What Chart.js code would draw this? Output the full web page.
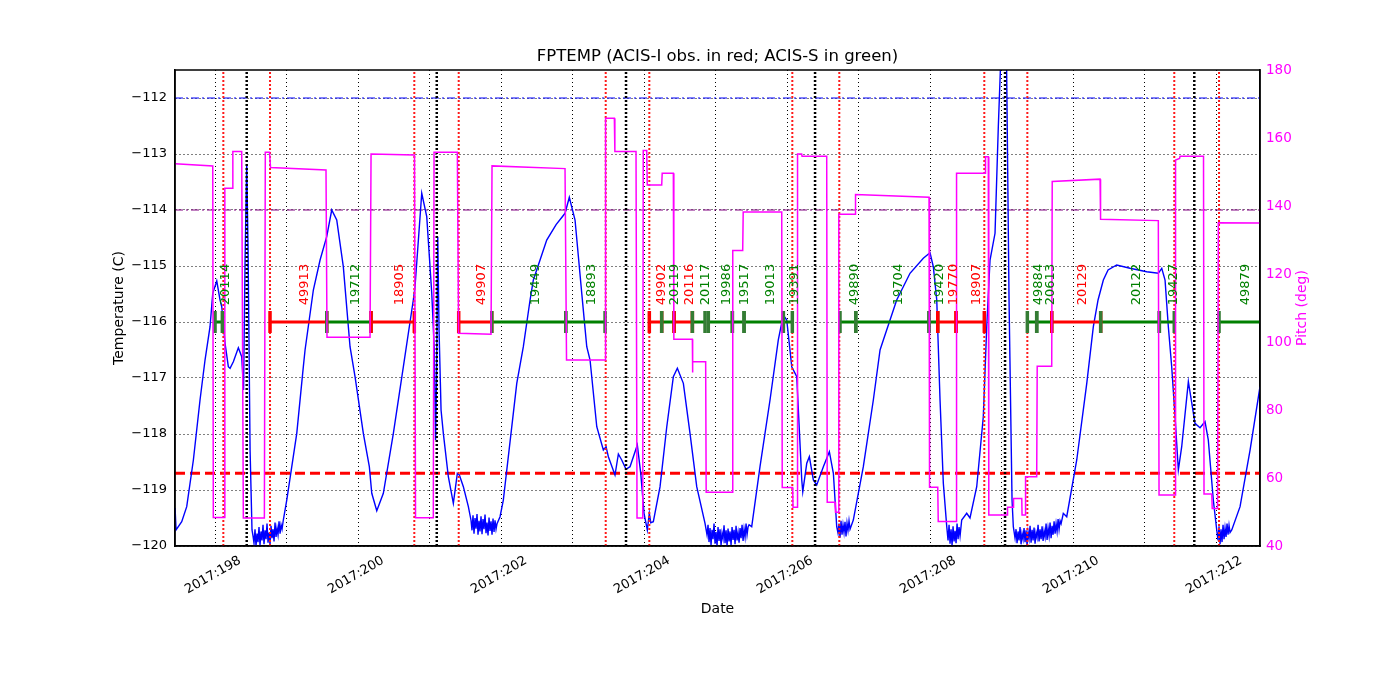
<!DOCTYPE html>
<html><head><meta charset="utf-8">
<script src="https://cdn.jsdelivr.net/npm/chart.js@4.4.1/dist/chart.umd.min.js"></script>
<style>html,body{margin:0;padding:0;background:#fff;}canvas{display:block;}</style>
</head><body>
<canvas id="c" width="1400" height="700"></canvas>
<script>
const FONT = '"DejaVu Sans", sans-serif';
const chartTitle = 'FPTEMP (ACIS-I obs. in red; ACIS-S in green)';
const xMin = 197.44, xMax = 212.615;
const tempMin = -120, tempMax = -111.5;
const pitchMin = 40, pitchMax = 180;
const limitBlue = -112;
const limitPurple = -114;
const limitRed = -118.7;
const obsLevel = -116;
const labelLevel = -115.7;

const tempDays = [197.441,197.455,197.534,197.604,197.697,197.790,197.860,197.930,197.968,198.024,198.070,198.094,198.140,198.186,198.210,198.256,198.326,198.373,198.399,198.420,198.443,198.462,198.490,198.517,
198.531,198.545,198.559,198.573,198.587,198.601,198.615,198.629,198.643,198.657,198.671,198.685,198.699,198.713,198.727,198.741,198.755,198.769,198.783,198.797,198.811,198.825,198.839,198.853,198.867,198.881,198.895,198.909,198.923,198.937,
198.955,199.003,199.143,199.235,199.259,199.375,199.469,199.562,199.632,199.702,199.794,199.888,199.958,200.074,200.158,200.192,200.262,200.354,200.494,200.634,200.773,200.797,200.891,200.961,201.031,201.067,201.084,201.098,201.115,201.133,201.161,201.193,201.263,201.333,201.389,201.417,201.473,201.543,
201.580,201.594,201.608,201.622,201.636,201.650,201.664,201.678,201.692,201.706,201.720,201.734,201.748,201.762,201.776,201.790,201.804,201.818,201.832,201.846,201.860,201.874,201.888,201.902,201.916,201.930,201.944,
201.986,202.032,202.220,202.312,202.406,202.452,202.639,202.770,202.895,202.955,203.035,203.129,203.199,203.245,203.339,203.431,203.469,203.501,203.594,203.641,203.688,203.748,203.804,203.906,203.954,204.000,204.046,204.074,204.094,204.130,204.224,204.318,204.410,204.466,204.550,204.643,204.737,204.853,
204.881,204.895,204.909,204.923,204.937,204.951,204.965,204.979,204.993,205.007,205.021,205.035,205.049,205.063,205.077,205.091,205.105,205.119,205.133,205.147,205.161,205.175,205.189,205.203,205.217,205.231,205.245,205.259,205.273,205.287,205.301,205.315,205.329,205.343,205.357,205.371,205.385,205.399,205.413,205.427,205.441,205.455,205.469,
205.506,205.622,205.762,205.878,205.948,205.996,206.066,206.136,206.206,206.220,206.276,206.312,206.368,206.415,206.508,206.592,206.648,206.695,
206.713,206.727,206.741,206.755,206.769,206.783,206.797,206.811,206.825,206.839,206.853,206.867,206.881,
206.927,207.067,207.207,207.301,207.347,207.534,207.720,207.906,208.000,208.046,208.094,208.140,208.186,208.234,
208.252,208.266,208.280,208.294,208.308,208.322,208.336,208.350,208.364,208.378,208.392,208.406,208.420,
208.443,208.513,208.559,208.653,208.745,208.793,208.839,208.909,208.955,208.989,209.028,209.070,209.105,209.147,209.165,
209.189,209.203,209.217,209.231,209.245,209.259,209.273,209.287,209.301,209.315,209.329,209.343,209.357,209.371,209.385,209.399,209.413,209.427,209.441,209.455,209.469,209.483,209.497,209.511,209.525,209.539,209.553,209.567,209.581,209.595,209.609,209.623,209.637,209.651,209.665,209.679,209.693,209.707,209.721,209.735,209.749,209.763,209.777,209.791,209.805,209.819,209.833,
209.864,209.912,210.052,210.192,210.284,210.350,210.424,210.490,210.611,210.797,211.031,211.193,211.241,211.287,211.333,211.380,211.427,211.473,211.520,211.613,211.706,211.776,211.846,211.892,211.962,212.010,
212.028,212.042,212.056,212.070,212.084,212.098,212.112,212.126,212.140,212.154,212.168,212.182,212.196,
212.220,212.336,212.476,212.615];

const tempVals = [-119.321,-119.714,-119.566,-119.298,-118.464,-117.393,-116.679,-116.084,-115.488,-115.268,-115.607,-115.727,-116.380,-116.798,-116.827,-116.709,-116.459,-116.620,-117.214,-114.893,-113.179,-114.714,-118.286,-119.714,
-119.82,-119.95,-119.70,-120.0,-119.78,-119.93,-119.66,-119.99,-119.74,-119.90,-119.62,-119.97,-119.72,-119.88,-119.60,-119.94,-119.76,-119.98,-119.64,-119.86,-119.70,-119.92,-119.58,-119.84,-119.68,-119.80,-119.56,-119.78,-119.62,-119.70,
-119.536,-119.179,-117.988,-116.798,-116.5,-115.429,-114.893,-114.477,-114.0,-114.179,-115.012,-116.441,-116.977,-117.988,-118.584,-119.059,-119.370,-119.059,-117.988,-116.798,-115.607,-115.370,-113.702,-114.120,-115.488,-116.5,-118.107,-117.036,-114.477,-116.143,-117.571,-117.988,-118.763,-119.238,-118.702,-118.732,-118.941,-119.298,
-119.54,-119.72,-119.45,-119.78,-119.50,-119.69,-119.43,-119.80,-119.55,-119.74,-119.47,-119.79,-119.52,-119.70,-119.44,-119.77,-119.58,-119.81,-119.49,-119.73,-119.56,-119.80,-119.51,-119.75,-119.54,-119.70,-119.60,
-119.477,-119.179,-117.095,-116.441,-115.607,-115.25,-114.536,-114.260,-114.059,-113.773,-114.179,-115.488,-116.441,-116.679,-117.870,-118.286,-118.227,-118.405,-118.732,-118.357,-118.464,-118.630,-118.584,-118.196,-118.702,-119.416,-119.714,-119.416,-119.584,-119.566,-118.941,-117.870,-116.977,-116.827,-117.095,-117.988,-118.941,-119.595,
-119.80,-119.62,-119.93,-119.68,-119.98,-119.71,-119.88,-119.60,-119.96,-119.75,-120.0,-119.66,-119.91,-119.70,-119.99,-119.77,-119.87,-119.63,-119.95,-119.72,-120.0,-119.69,-119.92,-119.74,-119.98,-119.66,-119.89,-119.71,-119.97,-119.64,-119.90,-119.76,-119.94,-119.68,-119.86,-119.62,-119.91,-119.70,-119.84,-119.60,-119.80,-119.66,-119.62,
-119.655,-118.584,-117.393,-116.321,-115.875,-115.964,-116.798,-116.977,-118.821,-119.030,-118.523,-118.405,-118.821,-118.911,-118.584,-118.316,-118.702,-119.655,
-119.77,-119.60,-119.85,-119.55,-119.80,-119.62,-119.76,-119.57,-119.83,-119.59,-119.72,-119.55,-119.70,
-119.536,-118.584,-117.393,-116.5,-116.321,-115.607,-115.130,-114.862,-114.763,-115.013,-115.607,-117.393,-118.880,-119.655,
-119.90,-119.62,-119.96,-119.70,-119.99,-119.65,-119.92,-119.73,-119.95,-119.60,-119.88,-119.66,-119.82,
-119.536,-119.416,-119.5,-118.941,-117.691,-116.084,-114.893,-114.416,-112.512,-111.321,-110.786,-111.321,-115.607,-119.179,-119.655,
-119.86,-119.70,-119.95,-119.74,-119.90,-119.66,-119.97,-119.78,-119.88,-119.68,-119.93,-119.72,-119.99,-119.75,-119.87,-119.64,-119.94,-119.71,-119.90,-119.67,-119.96,-119.76,-119.85,-119.62,-119.92,-119.70,-119.88,-119.65,-119.91,-119.73,-119.84,-119.60,-119.89,-119.68,-119.82,-119.58,-119.86,-119.64,-119.80,-119.56,-119.78,-119.60,-119.74,-119.52,-119.70,-119.55,-119.60,
-119.416,-119.477,-118.464,-117.095,-116.084,-115.607,-115.25,-115.071,-114.982,-115.041,-115.102,-115.130,-115.041,-115.25,-116.084,-116.798,-117.691,-118.643,-118.227,-117.066,-117.809,-117.888,-117.780,-118.107,-119.179,-119.714,
-119.90,-119.65,-119.97,-119.70,-119.93,-119.62,-119.88,-119.68,-119.84,-119.60,-119.80,-119.63,-119.76,
-119.714,-119.298,-118.286,-117.155];

const pitchDays = [197.441,197.968,197.976,198.130,198.137,198.242,198.249,198.373,198.396,198.690,198.703,198.762,198.776,199.552,199.566,200.168,200.182,200.790,200.804,201.053,201.063,201.389,201.406,201.860,201.874,202.895,202.916,203.455,203.462,203.585,203.592,203.888,203.902,203.982,203.989,204.038,204.045,204.247,204.254,204.410,204.417,204.676,204.678,204.682,204.862,204.869,205.234,205.241,205.380,205.387,205.926,205.933,206.079,206.084,206.140,206.147,206.205,206.210,206.555,206.562,206.671,206.678,206.717,206.724,206.951,206.958,207.986,207.993,208.108,208.115,208.364,208.371,208.769,208.776,208.815,208.822,209.081,209.084,209.165,209.168,209.283,209.287,209.329,209.336,209.492,209.499,209.702,209.709,210.378,210.385,211.193,211.203,211.427,211.434,211.490,211.497,211.825,211.832,211.940,211.947,212.021,212.032,212.615];
const pitchVals = [152.4,151.8,48.4,48.4,145.2,145.2,156.0,156.0,48.2,48.2,155.8,155.8,151.3,150.6,101.4,101.4,155.3,155.0,48.3,48.3,155.8,155.8,102.6,102.3,151.8,151.0,94.7,94.7,165.8,165.8,156.0,156.0,48.2,48.2,156.3,156.3,146.2,146.2,149.6,149.6,100.8,100.8,91.0,94.2,94.2,55.8,55.8,126.9,126.9,138.2,138.2,57.2,57.2,51.4,51.4,155.3,155.3,154.6,154.6,52.9,52.9,49.9,49.9,137.6,137.6,143.4,142.6,57.3,57.3,47.2,47.2,149.6,149.6,154.5,154.5,49.1,49.1,51.4,51.4,54.0,54.0,49.1,49.1,60.4,60.4,92.9,92.9,147.2,147.9,136.1,135.7,55.0,55.0,153.5,154.0,154.6,154.6,55.3,55.3,51.0,51.0,135.1,135.0];

const obsStart = [198.000,198.769,199.562,200.182,201.408,201.870,202.905,204.074,204.247,204.420,204.676,204.899,205.235,205.399,205.948,206.741,206.961,207.986,208.108,208.364,209.361,209.492,209.702,210.387,211.207,212.042];
const obsStop  = [198.102,199.562,200.182,200.787,201.870,202.905,203.455,204.247,204.420,204.676,204.853,205.235,205.399,205.948,206.074,206.961,207.986,208.108,208.364,208.759,209.492,209.702,210.387,211.207,211.416,212.615];
const obsIds   = ['20114','49913','19712','18905','49907','19449','18893','49902','20119','20116','20117','19986','19517','19013','19391','49890','19704','19420','19770','18907','49884','20613','20129','20122','19427','49879'];
const obsInst  = ['S','I','S','I','I','S','S','I','S','I','S','S','S','S','S','S','S','S','I','I','S','S','I','S','S','S'];

const radZoneLines = [198.116,198.769,200.787,201.408,203.464,204.074,206.074,206.731,208.759,209.361,211.416,212.042];
const perigeeLines = [198.443,201.101,203.748,206.392,209.049,211.696];

const RED = '#ff0000', GREEN = '#008000', TICKGREEN = '#347c34';

const pts = (xs, ys) => xs.map((x, i) => ({x: x, y: ys[i]}));
function vlines(xs) {
  const d = [];
  xs.forEach(x => { d.push({x: x, y: tempMin}, {x: x, y: tempMax}, {x: x, y: null}); });
  return d;
}
function segs(inst) {
  const d = [];
  obsStart.forEach((s, i) => {
    if (obsInst[i] !== inst) return;
    d.push({x: s, y: obsLevel}, {x: obsStop[i], y: obsLevel}, {x: obsStop[i], y: null});
  });
  return d;
}
const tickPts = [], tickCols = [];
obsStop.forEach((s, i) => { if (s < xMax) { tickPts.push({x: s, y: obsLevel}); tickCols.push(obsInst[i] === 'I' ? RED : TICKGREEN); } });
obsStart.forEach((s, i) => { tickPts.push({x: s, y: obsLevel}); tickCols.push(obsInst[i] === 'I' ? RED : TICKGREEN); });

const hline = v => [{x: xMin, y: v}, {x: xMax, y: v}];

const overlay = {
  id: 'overlay',
  afterDatasetsDraw(chart) {
    const {ctx, chartArea: a, scales} = chart;
    const x = scales.x, y = scales.y;
    ctx.save();
    ctx.font = '13px ' + FONT;
    obsIds.forEach((id, i) => {
      const px = x.getPixelForValue((obsStart[i] + Math.min(obsStop[i], xMax)) / 2);
      const py = y.getPixelForValue(labelLevel);
      ctx.save();
      ctx.translate(px, py);
      ctx.rotate(-Math.PI / 2);
      ctx.fillStyle = obsInst[i] === 'I' ? RED : GREEN;
      ctx.textAlign = 'left';
      ctx.textBaseline = 'top';
      ctx.fillText(id, 0, 0);
      ctx.restore();
    });
    ctx.strokeStyle = '#000';
    ctx.lineWidth = 1.5;
    ctx.strokeRect(a.left, a.top, a.right - a.left, a.bottom - a.top);
    ctx.save();
    ctx.translate(1302, (a.top + a.bottom) / 2);
    ctx.rotate(-Math.PI / 2);
    ctx.fillStyle = '#ff00ff';
    ctx.font = '14px ' + FONT;
    ctx.textAlign = 'center';
    ctx.textBaseline = 'middle';
    ctx.fillText('Pitch (deg)', 0, 0);
    ctx.restore();
    ctx.restore();
  }
};

new Chart(document.getElementById('c'), {
  type: 'line',
  data: {
    datasets: [
      {data: pts(pitchDays, pitchVals), yAxisID: 'y2', borderColor: '#ff00ff', borderWidth: 1.5, pointRadius: 0, order: 0},
      {data: tickPts, yAxisID: 'y', showLine: false, pointStyle: 'line', pointRotation: 90, pointRadius: 11,
       pointBorderWidth: 3.5, pointBorderColor: tickCols, pointBackgroundColor: tickCols, order: 1},
      {data: segs('I'), yAxisID: 'y', borderColor: RED, borderWidth: 3, pointRadius: 0, order: 2},
      {data: segs('S'), yAxisID: 'y', borderColor: GREEN, borderWidth: 3, pointRadius: 0, order: 2},
      {data: vlines(radZoneLines), yAxisID: 'y', borderColor: '#ff1a1a', borderWidth: 2, borderDash: [2, 2], pointRadius: 0, order: 3},
      {data: vlines(perigeeLines), yAxisID: 'y', borderColor: '#000', borderWidth: 2.5, borderDash: [2, 2], pointRadius: 0, order: 3},
      {data: pts(tempDays, tempVals), yAxisID: 'y', borderColor: '#0000ff', borderWidth: 1.4, pointRadius: 0, order: 4},
      {data: hline(limitBlue), yAxisID: 'y', borderColor: '#0000ff', borderWidth: 1, borderDash: [8, 3, 2, 3], pointRadius: 0, order: 5},
      {data: hline(limitPurple), yAxisID: 'y', borderColor: '#800080', borderWidth: 1, borderDash: [8, 3, 2, 3], pointRadius: 0, order: 5},
      {data: hline(limitRed), yAxisID: 'y', borderColor: RED, borderWidth: 3, borderDash: [10, 5], pointRadius: 0, order: 5}
    ]
  },
  options: {
    responsive: false,
    animation: false,
    devicePixelRatio: 1,
    spanGaps: false,
    layout: {padding: {left: 100, right: 85, top: 0, bottom: 79}},
    elements: {line: {tension: 0}, point: {radius: 0}},
    plugins: {
      legend: {display: false},
      tooltip: {enabled: false},
      title: {display: true, fullSize: false, text: chartTitle, color: '#000',
              font: {family: FONT, size: 16.5, weight: 'normal'}, padding: {top: 47, bottom: 3.2}}
    },
    scales: {
      x: {
        type: 'linear', min: xMin, max: xMax,
        afterFit(s) { s.height = 75; },
        ticks: {stepSize: 1, includeBounds: false, autoSkip: false, maxRotation: 30, minRotation: 30,
                color: '#000', font: {family: FONT, size: 13}, padding: 7, labelOffset: 25,
                callback: v => (Math.round(v) % 2 === 0 ? '2017:' + Math.round(v) : '')},
        grid: {color: '#000', lineWidth: 1, drawTicks: false},
        border: {display: true, color: '#000', width: 1.5, dash: [1, 3]},
        title: {display: true, text: 'Date', color: '#000', font: {family: FONT, size: 14}, padding: {top: 0, bottom: 3}}
      },
      y: {
        position: 'left', min: tempMin, max: tempMax,
        afterFit(s) { s.width = 75; },
        ticks: {stepSize: 1, includeBounds: false, color: '#000', font: {family: FONT, size: 13}, padding: 8,
                callback: v => (v < 0 ? '\u2212' + Math.abs(v) : String(v))},
        grid: {color: '#000', lineWidth: 1, drawTicks: false},
        border: {display: true, color: '#000', width: 1.5, dash: [1, 3]},
        title: {display: true, text: 'Temperature (C)', color: '#000', font: {family: FONT, size: 14}, padding: {top: 11, bottom: 0}}
      },
      y2: {
        position: 'right', min: pitchMin, max: pitchMax,
        afterFit(s) { s.width = 55; },
        ticks: {stepSize: 20, includeBounds: false, color: '#ff00ff', font: {family: FONT, size: 13.5}, padding: 6},
        grid: {drawOnChartArea: false, drawTicks: false},
        border: {display: true, color: '#000', width: 1.5}
      }
    }
  },
  plugins: [overlay]
});
</script>
</body></html>
